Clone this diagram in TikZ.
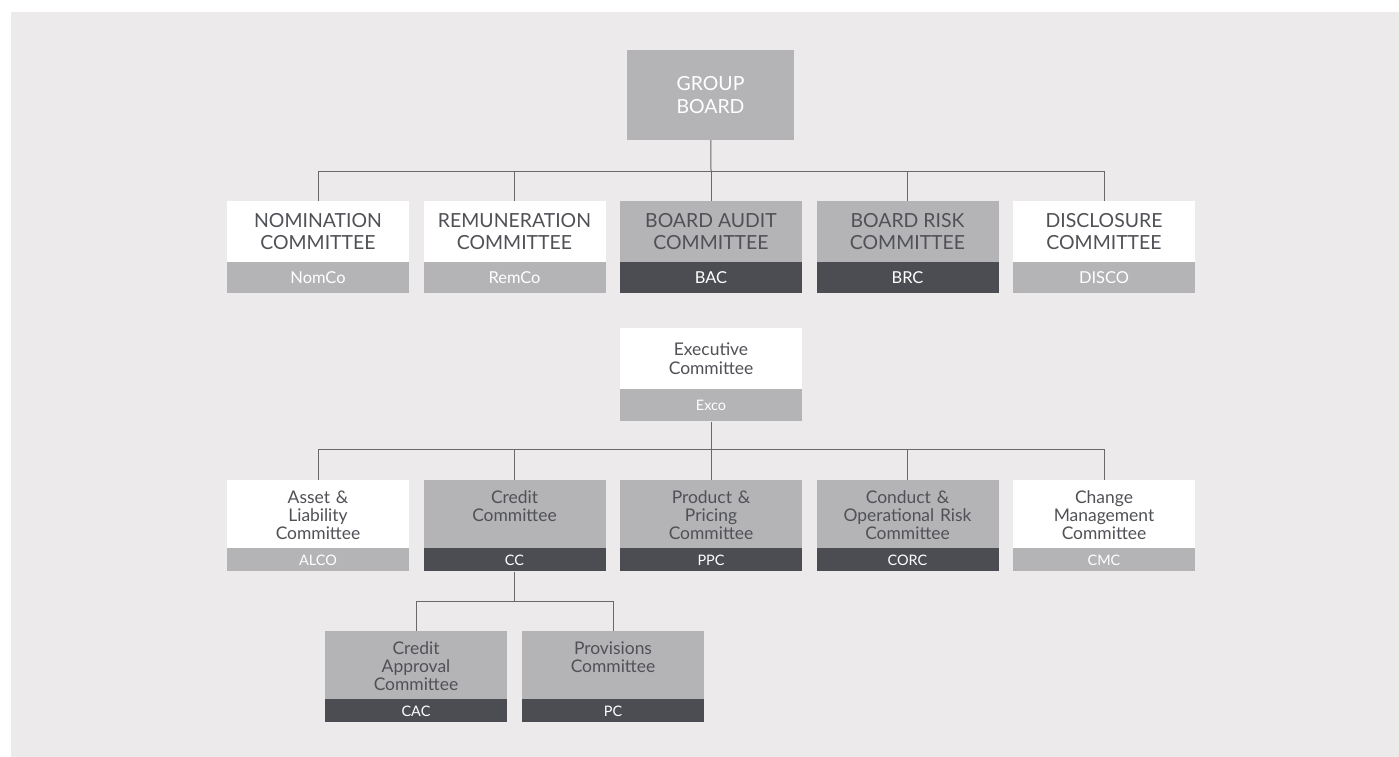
\documentclass[tikz,border=0pt]{standalone}
\usepackage{fontspec}
\setmainfont{Lato}
\usetikzlibrary{positioning}

\definecolor{panelbg}{RGB}{236,234,235}
\definecolor{midgrey}{RGB}{180,180,182}
\definecolor{darkgrey}{RGB}{76,77,82}
\definecolor{inkgrey}{RGB}{80,81,86}
\definecolor{linkgrey}{RGB}{105,105,108}

\tikzset{
  link/.style={draw=linkgrey, line width=1bp},
  bigtop/.style={minimum width=182bp, minimum height=61bp, inner sep=0pt,
    align=center, text=inkgrey, font=\fontsize{19.5}{23}\selectfont},
  bigtag/.style={minimum width=182bp, minimum height=31bp, inner sep=0pt,
    text=white, font=\fontsize{16.5}{18}\selectfont, below=0pt of #1},
  smalltop/.style={minimum width=182bp, minimum height=68bp, inner sep=0pt,
    text width=182bp, align=center, text height=23bp, text depth=45bp,
    text=inkgrey, font=\fontsize{17.5}{18.5}\selectfont},
  smalltag/.style={minimum width=182bp, minimum height=23bp, inner sep=0pt,
    text=white, font=\fontsize{14.5}{15}\selectfont, below=0pt of #1},
  whitebox/.style={fill=white},
  greybox/.style={fill=midgrey},
  lighttag/.style={fill=midgrey},
  darktag/.style={fill=darkgrey}
}

\begin{document}
\begin{tikzpicture}[x=1bp,y=-1bp]
  \useasboundingbox (0,0) rectangle (1399,756);
  \fill[panelbg] (11,12) rectangle (1402,760);

  % board level
  \node (gb) [greybox, minimum width=167bp, minimum height=90bp, inner sep=0pt,
    align=center, text=white, font=\fontsize{19.5}{23}\selectfont] at (710.5,95) {GROUP\\BOARD};

  \node (nom) [bigtop,whitebox] at (318,231.5)   {NOMINATION\\COMMITTEE};
  \node (rem) [bigtop,whitebox] at (514.5,231.5) {REMUNERATION\\COMMITTEE};
  \node (bac) [bigtop,greybox]  at (711,231.5)   {BOARD AUDIT\\COMMITTEE};
  \node (brc) [bigtop,greybox]  at (907.5,231.5) {BOARD RISK\\COMMITTEE};
  \node (dis) [bigtop,whitebox] at (1104,231.5)  {DISCLOSURE\\COMMITTEE};

  \node (nomtag) [bigtag=nom,lighttag] {NomCo};
  \node (remtag) [bigtag=rem,lighttag] {RemCo};
  \node (bactag) [bigtag=bac,darktag]  {BAC};
  \node (brctag) [bigtag=brc,darktag]  {BRC};
  \node (distag) [bigtag=dis,lighttag] {DISCO};

  % executive level
  \node (exco) [whitebox, minimum width=182bp, minimum height=61bp, inner sep=0pt,
    align=center, text=inkgrey, font=\fontsize{17.5}{19}\selectfont] at (711,358.5) {Executive\\Committee};
  \node (excotag) [lighttag, minimum width=182bp, minimum height=32bp, inner sep=0pt,
    text=white, font=\fontsize{14.5}{15}\selectfont, below=0pt of exco] {Exco};

  \node (alco) [smalltop,whitebox] at (318,514)   {Asset \&\\Liability\\Committee};
  \node (cc)   [smalltop,greybox]  at (514.5,514) {Credit\\Committee};
  \node (ppc)  [smalltop,greybox]  at (711,514)   {Product \&\\Pricing\\Committee};
  \node (corc) [smalltop,greybox]  at (907.5,514) {Conduct \&\\Operational Risk\\Committee};
  \node (cmc)  [smalltop,whitebox] at (1104,514)  {Change\\Management\\Committee};

  \node (alcotag) [smalltag=alco,lighttag] {ALCO};
  \node (cctag)   [smalltag=cc,darktag]    {CC};
  \node (ppctag)  [smalltag=ppc,darktag]   {PPC};
  \node (corctag) [smalltag=corc,darktag]  {CORC};
  \node (cmctag)  [smalltag=cmc,lighttag]  {CMC};

  % credit sub-committees
  \node (cac) [smalltop,greybox] at (416,665) {Credit\\Approval\\Committee};
  \node (pc)  [smalltop,greybox] at (613,665) {Provisions\\Committee};

  \node (cactag) [smalltag=cac,darktag] {CAC};
  \node (pctag)  [smalltag=pc,darktag]  {PC};

  % junctions
  \coordinate (gbj) at (711,171);
  \coordinate (exj) at (711,449);
  \coordinate (ccj) at (514.5,601);

  \draw[link] (gb) -- (gbj);
  \foreach \to in {nom,rem,bac,brc,dis}
    \draw[link] (gbj) -| (\to);

  \draw[link] (excotag) -- (exj);
  \foreach \to in {alco,cc,ppc,corc,cmc}
    \draw[link] (exj) -| (\to);

  \draw[link] (cctag) -- (ccj);
  \foreach \to in {cac,pc}
    \draw[link] (ccj) -| (\to);
\end{tikzpicture}
\end{document}
